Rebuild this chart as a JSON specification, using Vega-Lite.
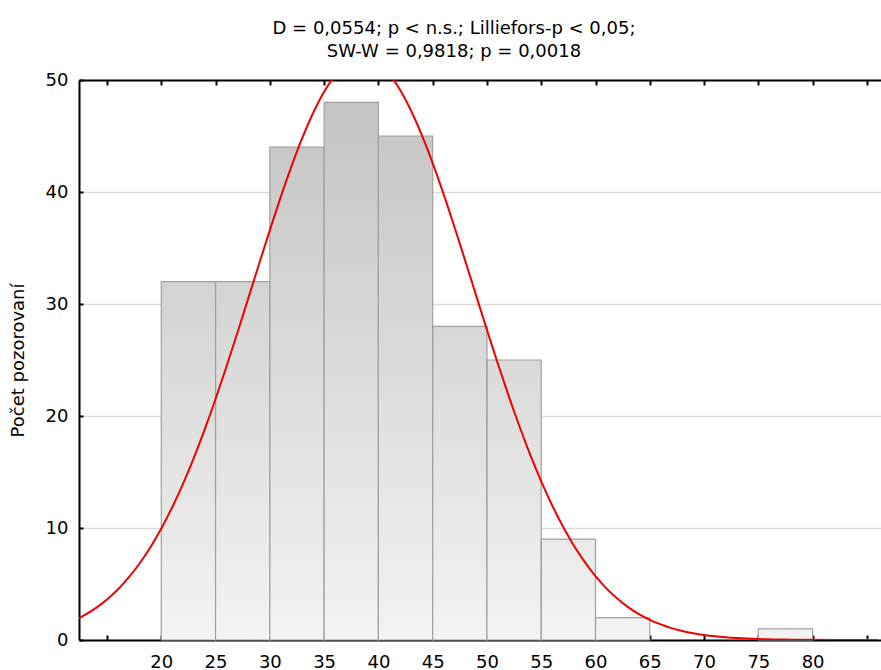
{
  "$schema": "https://vega.github.io/schema/vega-lite/v6.json",
  "width": 802,
  "height": 560,
  "autosize": {"type": "none"},
  "padding": {"left": 79, "top": 80, "right": 0, "bottom": 30},
  "background": "white",
  "config": {
    "font": "DejaVu Sans",
    "view": {"stroke": null},
    "axis": {
      "labelFont": "DejaVu Sans",
      "labelFontSize": 18,
      "labelColor": "#000000",
      "titleFont": "DejaVu Sans",
      "titleFontSize": 18,
      "titleFontWeight": "normal",
      "titleColor": "#000000",
      "domainColor": "#000000",
      "domainWidth": 2,
      "tickColor": "#000000",
      "tickWidth": 2
    }
  },
  "title": {
    "text": ["D = 0,0554; p < n.s.; Lilliefors-p < 0,05;", "SW-W = 0,9818; p = 0,0018"],
    "font": "DejaVu Sans",
    "fontSize": 18,
    "fontWeight": "normal",
    "color": "#000000",
    "anchor": "middle",
    "frame": "group",
    "dx": -26,
    "offset": 10,
    "lineHeight": 23
  },
  "resolve": {"scale": {"x": "independent"}, "axis": {"x": "independent"}},
  "datasets": {
    "bins": [
      {"start": 20, "end": 25, "count": 32},
      {"start": 25, "end": 30, "count": 32},
      {"start": 30, "end": 35, "count": 44},
      {"start": 35, "end": 40, "count": 48},
      {"start": 40, "end": 45, "count": 45},
      {"start": 45, "end": 50, "count": 28},
      {"start": 50, "end": 55, "count": 25},
      {"start": 55, "end": 60, "count": 9},
      {"start": 60, "end": 65, "count": 2},
      {"start": 65, "end": 70, "count": 0},
      {"start": 70, "end": 75, "count": 0},
      {"start": 75, "end": 80, "count": 1}
    ],
    "curve": [
      {"x": 12, "y": 1.757}, {"x": 13, "y": 2.257}, {"x": 14, "y": 2.871}, {"x": 15, "y": 3.619},
      {"x": 16, "y": 4.515}, {"x": 17, "y": 5.582}, {"x": 18, "y": 6.832}, {"x": 19, "y": 8.283},
      {"x": 20, "y": 9.949}, {"x": 21, "y": 11.835}, {"x": 22, "y": 13.943}, {"x": 23, "y": 16.267},
      {"x": 24, "y": 18.8}, {"x": 25, "y": 21.517}, {"x": 26, "y": 24.394}, {"x": 27, "y": 27.389},
      {"x": 28, "y": 30.458}, {"x": 29, "y": 33.547}, {"x": 30, "y": 36.596}, {"x": 31, "y": 39.541},
      {"x": 32, "y": 42.312}, {"x": 33, "y": 44.846}, {"x": 34, "y": 47.075}, {"x": 35, "y": 48.943},
      {"x": 36, "y": 50.4}, {"x": 37, "y": 51.4}, {"x": 38, "y": 51.92}, {"x": 39, "y": 51.95},
      {"x": 40, "y": 51.48}, {"x": 41, "y": 50.52}, {"x": 42, "y": 49.109}, {"x": 43, "y": 47.279},
      {"x": 44, "y": 45.083}, {"x": 45, "y": 42.577}, {"x": 46, "y": 39.827}, {"x": 47, "y": 36.897},
      {"x": 48, "y": 33.855}, {"x": 49, "y": 30.767}, {"x": 50, "y": 27.694}, {"x": 51, "y": 24.688},
      {"x": 52, "y": 21.799}, {"x": 53, "y": 19.064}, {"x": 54, "y": 16.511}, {"x": 55, "y": 14.165},
      {"x": 56, "y": 12.036}, {"x": 57, "y": 10.128}, {"x": 58, "y": 8.442}, {"x": 59, "y": 6.969},
      {"x": 60, "y": 5.697}, {"x": 61, "y": 4.614}, {"x": 62, "y": 3.7}, {"x": 63, "y": 2.939},
      {"x": 64, "y": 2.313}, {"x": 65, "y": 1.802}, {"x": 66, "y": 1.391}, {"x": 67, "y": 1.063},
      {"x": 68, "y": 0.805}, {"x": 69, "y": 0.604}, {"x": 70, "y": 0.448}, {"x": 71, "y": 0.33},
      {"x": 72, "y": 0.24}, {"x": 73, "y": 0.173}, {"x": 74, "y": 0.124}, {"x": 75, "y": 0.088},
      {"x": 76, "y": 0.062}, {"x": 77, "y": 0.043}, {"x": 78, "y": 0.029}, {"x": 79, "y": 0.02},
      {"x": 80, "y": 0.014}, {"x": 82, "y": 0.006}, {"x": 84, "y": 0.003}, {"x": 86, "y": 0.001}
    ]
  },
  "layer": [
    {
      "data": {"name": "bins"},
      "mark": {"type": "rect", "strokeWidth": 0},
      "encoding": {
        "x": {
          "field": "start", "type": "quantitative",
          "scale": {"domain": [12.42, 86.3], "nice": false, "zero": false},
          "axis": {
            "orient": "bottom",
            "title": null,
            "values": [15, 20, 25, 30, 35, 40, 45, 50, 55, 60, 65, 70, 75, 80, 85],
            "labelExpr": "datum.value < 17 || datum.value > 83 ? '' : datum.label",
            "tickSize": -5,
            "labelPadding": 18,
            "grid": false,
            "labelFlush": false,
            "labelOverlap": false
          }
        },
        "x2": {"field": "end"},
        "y": {
          "field": "count", "type": "quantitative",
          "scale": {"domain": [0, 50], "nice": false},
          "axis": {
            "title": "Počet pozorovaní",
            "values": [0, 10, 20, 30, 40, 50],
            "tickSize": -4,
            "labelPadding": 15,
            "grid": true,
            "gridColor": "#d9d9d9",
            "gridWidth": 1.5,
            "titleAngle": -90,
            "titleX": -61,
            "titleY": 280,
            "titleAlign": "center",
            "titleBaseline": "middle"
          }
        },
        "y2": {"datum": 0},
        "fill": {
          "field": "count", "type": "quantitative",
          "scale": {"domain": [0, 50], "range": ["#f3f3f3", "#c2c2c2"]},
          "legend": null
        }
      }
    },
    {
      "data": {"name": "bins"},
      "mark": {
        "type": "rect",
        "stroke": "#a0a0a0",
        "strokeWidth": 1.2,
        "fill": {
          "gradient": "linear",
          "x1": 0, "y1": 0, "x2": 0, "y2": 1,
          "stops": [
            {"offset": 0, "color": "rgba(243,243,243,0)"},
            {"offset": 1, "color": "rgba(243,243,243,1)"}
          ]
        }
      },
      "transform": [{"filter": "datum.count > 0"}],
      "encoding": {
        "x": {
          "field": "start", "type": "quantitative",
          "scale": {"domain": [12.42, 86.3], "nice": false, "zero": false},
          "axis": null
        },
        "x2": {"field": "end"},
        "y": {"field": "count", "type": "quantitative"},
        "y2": {"datum": 0}
      }
    },
    {
      "data": {"name": "curve"},
      "mark": {"type": "line", "color": "#f00000", "strokeWidth": 2, "clip": true, "interpolate": "monotone"},
      "encoding": {
        "x": {
          "field": "x", "type": "quantitative",
          "scale": {"domain": [12.42, 86.3], "nice": false, "zero": false},
          "axis": {
            "orient": "top",
            "title": null,
            "labels": false,
            "values": [15, 20, 25, 30, 35, 40, 45, 50, 55, 60, 65, 70, 75, 80, 85],
            "tickSize": -5,
            "grid": false
          }
        },
        "y": {"field": "y", "type": "quantitative"}
      }
    }
  ]
}
